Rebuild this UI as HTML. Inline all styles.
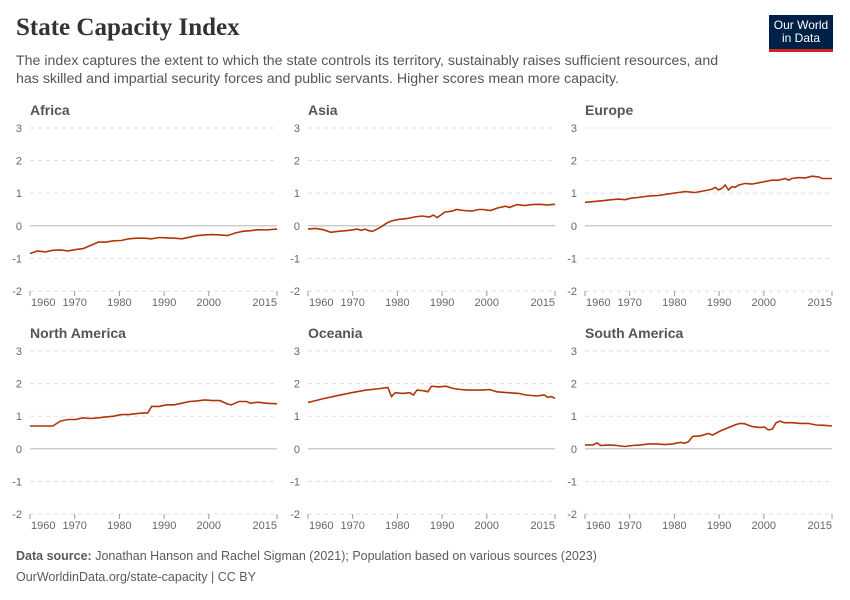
<!DOCTYPE html>
<html><head><meta charset="utf-8"><style>
body{margin:0;background:#fff;width:850px;height:600px;overflow:hidden;font-family:"Liberation Sans",sans-serif}
.t{position:absolute;left:16px;top:14px;font-family:"Liberation Serif",serif;font-size:25px;font-weight:bold;color:#333}
.s{position:absolute;left:16px;top:52px;font-size:14.2px;color:#555;line-height:18px;width:715px}
.logo{position:absolute;left:769px;top:15px;width:64px;height:37px;background:#002147;color:#fff;font-size:12px;line-height:13px;text-align:center;padding-top:4px;box-sizing:border-box;border-bottom:3px solid #ce261e}
.f{position:absolute;left:16px;font-size:12.5px;color:#5b5b5b}
</style></head><body>
<div class="t">State Capacity Index</div>
<div class="s">The index captures the extent to which the state controls its territory, sustainably raises sufficient resources, and has skilled and impartial security forces and public servants. Higher scores mean more capacity.</div>
<div class="logo">Our World<br>in Data</div>
<svg id="c" width="850" height="600" style="position:absolute;left:0;top:0"></svg>
<div class="f" style="top:549px"><b>Data source:</b> Jonathan Hanson and Rachel Sigman (2021); Population based on various sources (2023)</div>
<div class="f" style="top:570px">OurWorldinData.org/state-capacity | CC BY</div>
<script>
const P=[
["Africa",30,103,[[1960,-.85],[1962,-.77],[1964,-.8],[1966,-.75],[1968,-.74],[1970,-.77],[1972,-.73],[1974,-.7],[1976,-.6],[1978,-.5],[1980,-.5],[1982,-.46],[1984,-.45],[1986,-.4],[1988,-.38],[1990,-.38],[1992,-.4],[1994,-.36],[1996,-.37],[1998,-.38],[2000,-.4],[2002,-.35],[2004,-.3],[2006,-.28],[2008,-.27],[2010,-.28],[2012,-.3],[2014,-.22],[2016,-.17],[2018,-.15],[2020,-.12],[2022,-.13],[2025,-.1]]],
["Asia",308,103,[[1960,-.1],[1962,-.08],[1964,-.12],[1966,-.2],[1968,-.17],[1970,-.15],[1972,-.12],[1973,-.1],[1974,-.14],[1975,-.1],[1976,-.15],[1977,-.17],[1979,-.05],[1981,.1],[1982,.15],[1984,.2],[1986,.22],[1988,.27],[1990,.3],[1992,.27],[1993,.33],[1994,.25],[1996,.42],[1998,.45],[1999,.5],[2001,.47],[2003,.45],[2005,.5],[2006,.5],[2008,.47],[2010,.55],[2012,.6],[2013,.56],[2015,.65],[2017,.62],[2019,.65],[2021,.66],[2023,.64],[2025,.66]]],
["Europe",585,103,[[1960,.72],[1963,.75],[1966,.78],[1968,.8],[1970,.82],[1972,.8],[1974,.85],[1976,.87],[1978,.9],[1980,.92],[1982,.93],[1985,.98],[1988,1.02],[1990,1.05],[1993,1.02],[1996,1.08],[1998,1.12],[1999,1.18],[2000,1.1],[2001,1.15],[2002,1.25],[2003,1.1],[2004,1.2],[2005,1.18],[2006,1.25],[2008,1.3],[2010,1.28],[2012,1.32],[2014,1.36],[2016,1.4],[2018,1.4],[2020,1.45],[2021,1.4],[2022,1.45],[2024,1.48],[2026,1.47],[2028,1.52],[2030,1.5],[2031,1.45],[2034,1.45]]],
["North America",30,326,[[1960,.7],[1962,.7],[1964,.7],[1966,.7],[1968,.85],[1970,.9],[1972,.9],[1974,.95],[1976,.93],[1978,.95],[1980,.98],[1982,1.0],[1984,1.05],[1986,1.05],[1988,1.08],[1990,1.1],[1991,1.1],[1992,1.3],[1994,1.3],[1996,1.35],[1998,1.35],[2000,1.4],[2002,1.45],[2004,1.47],[2006,1.5],[2008,1.48],[2010,1.48],[2012,1.37],[2013,1.35],[2015,1.45],[2017,1.45],[2018,1.4],[2020,1.43],[2022,1.4],[2025,1.38]]],
["Oceania",308,326,[[1960,1.42],[1964,1.53],[1968,1.63],[1972,1.72],[1976,1.8],[1980,1.85],[1982,1.88],[1983,1.6],[1984,1.72],[1986,1.7],[1988,1.72],[1989,1.65],[1990,1.8],[1992,1.78],[1993,1.75],[1994,1.92],[1996,1.9],[1998,1.92],[2000,1.85],[2002,1.82],[2004,1.8],[2008,1.8],[2010,1.82],[2012,1.75],[2015,1.72],[2018,1.7],[2020,1.65],[2023,1.62],[2025,1.65],[2026,1.58],[2027,1.6],[2028,1.55]]],
["South America",585,326,[[1960,.12],[1962,.12],[1963,.18],[1964,.1],[1966,.12],[1968,.1],[1970,.07],[1972,.1],[1974,.12],[1976,.15],[1978,.15],[1980,.13],[1982,.15],[1984,.2],[1985,.17],[1986,.22],[1987,.38],[1989,.4],[1991,.47],[1992,.42],[1994,.55],[1996,.65],[1998,.75],[1999,.78],[2000,.77],[2002,.68],[2004,.65],[2005,.67],[2006,.58],[2007,.6],[2008,.8],[2009,.85],[2010,.8],[2012,.8],[2014,.78],[2016,.78],[2018,.73],[2020,.72],[2022,.7]]]];
let h='';const W=247;
P.forEach(([n,x0,y0,d])=>{
 const yy=v=>y0+25+(3-v)*32.6;
 const minY=d[0][0],maxY=d[d.length-1][0];
 const xx=t=>x0+(t-minY)/(maxY-minY)*W;
 h+=`<text x="${x0}" y="${y0+12}" font-size="14" font-weight="bold" fill="#555">${n}</text>`;
 [3,2,1,-1,-2].forEach(v=>{h+=`<line x1="${x0}" x2="${x0+W}" y1="${yy(v)}" y2="${yy(v)}" stroke="#ddd" stroke-dasharray="4,4"/><text x="${x0-8}" y="${yy(v)+4}" font-size="11" fill="#666" text-anchor="end">${v}</text>`});
 h+=`<line x1="${x0}" x2="${x0+W}" y1="${yy(0)}" y2="${yy(0)}" stroke="#bbb" stroke-width="1.2"/><text x="${x0-8}" y="${yy(0)+4}" font-size="11" fill="#666" text-anchor="end">0</text>`;
 const lx=t=>x0+(t-1960)*4.47;
 [[1960,'start'],[1970,'middle'],[1980,'middle'],[1990,'middle'],[2000,'middle'],[2015,'end']].forEach(([t,a])=>{
  const X=t==2015?x0+W:lx(t);
  h+=`<line x1="${X}" x2="${X}" y1="${yy(-2)}" y2="${yy(-2)+5}" stroke="#999"/><text x="${X+(a=='start'?1:0)}" y="${yy(-2)+15}" font-size="11" fill="#666" text-anchor="${a}">${t}</text>`;
 });
 h+=`<polyline fill="none" stroke="#b13507" stroke-width="1.6" points="${d.map(p=>xx(p[0]).toFixed(1)+','+yy(p[1]).toFixed(1)).join(' ')}"/>`;
});
document.getElementById('c').innerHTML=h;
</script>
</body></html>
